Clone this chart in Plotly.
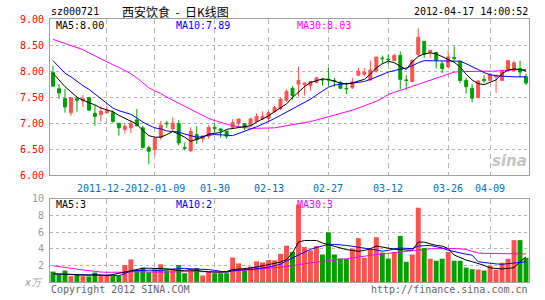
import plotly.graph_objects as go

dates = ["2011-12-13","2011-12-14","2011-12-15","2011-12-16","2011-12-19","2011-12-20","2011-12-21","2011-12-22","2011-12-23",
         "2011-12-26","2011-12-27","2011-12-28","2011-12-29","2011-12-30","2012-01-04","2012-01-05","2012-01-06",
         "2012-01-09","2012-01-10","2012-01-11","2012-01-12","2012-01-13","2012-01-16","2012-01-17","2012-01-18","2012-01-19","2012-01-20",
         "2012-01-30","2012-01-31","2012-02-01","2012-02-02","2012-02-03","2012-02-06","2012-02-07","2012-02-09","2012-02-10",
         "2012-02-13","2012-02-14","2012-02-15","2012-02-16","2012-02-17","2012-02-20","2012-02-21","2012-02-22","2012-02-23","2012-02-24",
         "2012-02-27","2012-02-28","2012-02-29","2012-03-01","2012-03-02","2012-03-05","2012-03-06","2012-03-07","2012-03-08","2012-03-09",
         "2012-03-12","2012-03-13","2012-03-14","2012-03-15","2012-03-16","2012-03-19","2012-03-20","2012-03-21","2012-03-22","2012-03-23",
         "2012-03-26","2012-03-27","2012-03-28","2012-03-29","2012-03-30","2012-04-05","2012-04-06",
         "2012-04-09","2012-04-10","2012-04-11","2012-04-12","2012-04-13","2012-04-16","2012-04-17"]

opens = [7.97,7.66,7.47,7.20,7.47,7.43,7.49,7.19,7.16,7.20,7.20,7.00,6.88,6.91,7.06,6.91,6.53,6.49,6.73,7.00,
         6.89,6.99,6.53,6.47,6.78,6.70,6.75,6.92,6.89,6.85,6.92,7.00,6.99,6.95,7.03,7.08,7.09,7.22,7.28,7.44,
         7.67,7.75,7.74,7.72,7.78,7.84,7.84,7.82,7.78,7.67,7.68,7.92,7.94,7.83,8.00,8.25,8.23,8.20,8.30,7.83,
         7.80,8.32,8.57,8.36,8.36,8.14,8.08,8.26,8.19,7.82,7.67,7.49,7.84,7.82,7.89,7.82,8.01,8.01,8.05,7.89]
highs = [8.10,7.75,7.66,7.49,7.48,7.54,7.50,7.35,7.32,7.34,7.25,7.00,7.00,7.06,7.27,6.95,6.57,6.71,7.04,7.04,
         7.11,7.06,6.63,6.92,6.94,6.77,6.96,6.99,6.89,6.85,7.08,7.08,6.99,7.11,7.19,7.23,7.24,7.33,7.49,7.65,
         7.71,8.09,7.78,7.81,7.89,7.87,8.06,7.87,7.81,7.78,7.87,8.06,8.06,8.20,8.27,8.30,8.33,8.33,8.38,7.92,
         8.21,8.82,8.57,8.40,8.36,8.19,8.38,8.47,8.19,7.87,7.75,7.82,7.92,7.95,7.92,8.03,8.20,8.20,8.20,7.95]
lows = [7.69,7.47,7.20,7.14,7.22,7.31,7.23,6.95,7.03,7.18,7.01,6.76,6.80,6.81,6.94,6.52,6.21,6.38,6.68,6.91,
        6.83,6.57,6.48,6.45,6.60,6.63,6.70,6.82,6.72,6.70,6.91,6.95,6.87,6.94,7.02,7.06,7.04,7.20,7.25,7.41,
        7.45,7.51,7.53,7.62,7.77,7.72,7.72,7.70,7.65,7.56,7.66,7.90,7.90,7.81,7.97,8.14,8.13,8.19,7.65,7.63,
        7.78,8.27,8.25,8.25,8.05,7.96,8.06,8.20,7.77,7.57,7.40,7.48,7.77,7.81,7.58,7.81,8.00,8.00,7.87,7.73]
closes = [7.71,7.58,7.31,7.49,7.44,7.47,7.25,7.13,7.23,7.24,7.03,6.91,6.94,6.99,6.95,6.53,6.46,6.71,6.96,6.99,
          7.00,6.62,6.52,6.84,6.68,6.75,6.92,6.90,6.85,6.75,7.01,7.08,6.91,7.08,7.13,7.13,7.20,7.30,7.46,7.61,
          7.53,7.82,7.77,7.80,7.87,7.83,7.83,7.80,7.67,7.66,7.79,8.00,7.98,8.02,8.27,8.24,8.22,8.30,7.84,7.82,
          8.21,8.65,8.32,8.40,8.21,8.05,8.27,8.24,7.82,7.70,7.48,7.81,7.82,7.94,7.92,8.00,8.20,8.16,7.98,7.77]

ma5 = [7.96,7.82,7.70,7.60,7.50,7.44,7.40,7.35,7.29,7.26,7.22,7.15,7.09,7.04,6.98,6.86,6.76,6.73,6.73,6.78,
       6.84,6.79,6.73,6.65,6.69,6.73,6.79,6.81,6.82,6.88,6.90,6.92,6.93,6.95,7.02,7.08,7.14,7.22,7.30,7.37,
       7.49,7.60,7.70,7.78,7.82,7.85,7.84,7.80,7.77,7.75,7.77,7.81,7.84,7.94,8.06,8.14,8.19,8.16,8.10,8.03,
       8.18,8.28,8.33,8.35,8.33,8.28,8.22,8.17,8.08,7.94,7.83,7.76,7.74,7.78,7.83,7.95,8.02,8.04,8.03,8.00]
ma10 = [8.20,8.08,7.96,7.89,7.80,7.72,7.65,7.56,7.46,7.38,7.29,7.24,7.20,7.17,7.10,7.02,6.96,6.91,6.89,6.85,
        6.84,6.83,6.79,6.76,6.73,6.74,6.77,6.78,6.78,6.77,6.76,6.80,6.85,6.89,6.93,6.98,7.03,7.09,7.15,7.21,
        7.28,7.34,7.40,7.46,7.54,7.62,7.69,7.73,7.75,7.76,7.77,7.78,7.80,7.84,7.89,7.94,7.98,8.01,8.03,8.06,
        8.10,8.16,8.20,8.20,8.20,8.20,8.20,8.20,8.19,8.14,8.09,8.03,7.97,7.93,7.91,7.90,7.89,7.89,7.89,7.89]
ma30 = [8.61,8.57,8.54,8.50,8.46,8.41,8.35,8.29,8.23,8.18,8.12,8.07,8.01,7.95,7.87,7.77,7.68,7.62,7.57,7.50,
        7.44,7.38,7.32,7.26,7.20,7.14,7.09,7.05,7.01,6.98,6.95,6.93,6.91,6.90,6.90,6.90,6.90,6.91,6.93,6.95,
        6.97,6.98,7.00,7.03,7.06,7.09,7.12,7.15,7.18,7.21,7.25,7.29,7.33,7.37,7.42,7.48,7.55,7.59,7.63,7.67,
        7.70,7.74,7.79,7.83,7.86,7.90,7.94,7.98,7.99,7.99,7.99,7.99,8.00,8.00,8.00,8.01,8.02,8.02,8.03,8.03]

volumes = [1.26,0.87,1.38,0.71,0.87,0.71,0.67,1.14,0.71,0.79,0.71,0.71,2.05,2.72,1.46,1.73,1.18,1.54,2.13,1.42,
           1.57,2.05,1.06,1.57,1.69,0.79,1.26,1.06,1.06,1.06,2.95,2.24,1.50,1.85,2.48,2.36,2.64,2.60,3.39,4.37,
           3.62,9.33,4.21,3.82,4.33,3.31,5.98,3.31,2.83,2.76,4.02,5.28,2.91,3.94,5.39,3.54,2.83,3.62,5.55,2.44,
           3.31,8.94,4.09,2.80,2.56,2.80,3.62,2.56,2.56,1.73,1.54,1.50,1.38,1.97,1.46,2.32,2.80,5.04,5.04,2.91]
vma5 = [0.98,0.98,0.95,0.90,0.85,0.80,0.82,0.86,0.82,0.79,0.90,1.04,1.22,1.40,1.55,1.65,1.66,1.65,1.65,1.58,
        1.50,1.35,1.40,1.46,1.38,1.28,1.22,1.20,1.18,1.26,1.50,1.55,1.58,1.70,1.80,1.95,2.05,2.20,2.40,2.70,
        3.50,4.80,5.00,5.00,5.00,4.70,4.50,4.30,4.10,3.90,3.80,3.70,3.80,4.00,4.33,4.20,4.05,3.95,3.90,3.85,
        3.82,4.80,4.80,4.60,4.41,4.33,4.02,3.25,2.90,2.64,2.45,2.24,2.00,1.70,1.65,1.57,1.65,1.73,2.44,3.03]
vma10 = [0.98,0.98,0.98,0.98,0.90,0.87,0.87,0.87,0.87,0.85,0.80,0.75,1.06,1.30,1.38,1.42,1.42,1.40,1.34,1.50,
         1.58,1.65,1.65,1.58,1.57,1.57,1.50,1.40,1.26,1.18,1.35,1.45,1.50,1.52,1.57,1.68,1.80,1.95,2.13,2.55,
         2.90,3.23,3.55,3.94,4.15,4.35,4.53,4.53,4.50,4.40,4.30,4.21,4.10,3.95,3.85,3.72,3.80,4.00,4.09,4.05,
         4.02,4.33,4.38,4.41,4.25,4.10,3.82,3.65,3.45,3.35,3.23,2.44,2.35,2.24,2.18,2.13,2.20,2.30,2.36,2.44]
vma30 = [1.95,1.87,1.78,1.68,1.55,1.45,1.35,1.26,1.20,1.17,1.15,1.14,1.18,1.24,1.22,1.17,1.15,1.16,1.18,1.20,
         1.23,1.25,1.26,1.26,1.25,1.24,1.22,1.19,1.15,1.20,1.28,1.34,1.38,1.44,1.50,1.55,1.60,1.70,1.76,1.85,
         1.97,2.13,2.20,2.30,2.40,2.50,2.60,2.68,2.74,2.80,2.88,2.98,3.10,3.22,3.30,3.40,3.48,3.55,3.62,3.66,
         3.80,3.90,3.95,4.00,4.02,4.04,4.04,4.03,3.99,3.92,3.70,3.50,3.45,3.43,3.42,3.40,3.38,3.36,3.37,3.38]

tick_dates = ["2011-12-26","2012-01-09","2012-01-30","2012-02-13","2012-02-27","2012-03-12","2012-03-26","2012-04-09"]
tick_labels = ["2011-12-","2012-01-09","01-30","02-13","02-27","03-12","03-26","04-09"]
price_ticks = [6.0, 6.5, 7.0, 7.5, 8.0, 8.5, 9.0]
vol_ticks = [2, 4, 6, 8, 10]

RED = "#ff5050"
GREEN = "#00a000"
GRID = "#b4b4b4"
FRAME = "#a0a0a0"
MONO = "DejaVu Sans Mono"

W, H = 545, 300
L, R, T, B = 50, 16, 19, 15
PW, PH = W - L - R, H - T - B


def px(X):
    return (X - L) / PW


def py(Y):
    return (H - B - Y) / PH


fig = go.Figure()
fig.add_trace(go.Candlestick(
    x=dates, open=opens, high=highs, low=lows, close=closes,
    increasing=dict(line=dict(color=RED, width=1), fillcolor=RED),
    decreasing=dict(line=dict(color=GREEN, width=1), fillcolor=GREEN),
    whiskerwidth=0, xaxis="x", yaxis="y", showlegend=False, hoverinfo="skip"))
for arr, col in [(ma30, "#ff00ff"), (ma10, "#0000ff"), (ma5, "#000000")]:
    fig.add_trace(go.Scatter(x=dates, y=arr, mode="lines", line=dict(color=col, width=1),
                             xaxis="x", yaxis="y", showlegend=False, hoverinfo="skip"))

vol_colors = [RED if c >= o else GREEN for o, c in zip(opens, closes)]
fig.add_trace(go.Bar(x=dates, y=volumes, marker=dict(color=vol_colors, line=dict(width=0)),
                     xaxis="x2", yaxis="y2", showlegend=False, hoverinfo="skip"))
for arr, col in [(vma30, "#ff00ff"), (vma10, "#0000ff"), (vma5, "#000000")]:
    fig.add_trace(go.Scatter(x=dates, y=arr, mode="lines", line=dict(color=col, width=1),
                             xaxis="x2", yaxis="y2", showlegend=False, hoverinfo="skip"))

main_bottom = py(177)
vol_top = py(201)

xcommon = dict(type="category", range=[-0.5, len(dates) - 0.5], tickvals=tick_dates,
               showticklabels=False, ticks="", showgrid=True, gridcolor=GRID, gridwidth=1,
               griddash="5px,4px", showline=True, mirror=True, linecolor=FRAME, linewidth=1,
               zeroline=False, fixedrange=True)

fig.update_layout(
    width=W, height=H, margin=dict(l=L, r=R, t=T, b=B, pad=0),
    paper_bgcolor="white", plot_bgcolor="white",
    bargap=0.18,
    xaxis=dict(domain=[0, 1], anchor="y", rangeslider=dict(visible=False), **xcommon),
    xaxis2=dict(domain=[0, 1], anchor="y2", matches="x", **xcommon),
    yaxis=dict(domain=[main_bottom, 1], range=[6, 9], tickvals=price_ticks,
               ticktext=["%.2f" % v for v in price_ticks],
               tickfont=dict(family=MONO, size=10, color="#ff0000"),
               showgrid=True, gridcolor=GRID, griddash="dot", gridwidth=1,
               showline=True, mirror=True, linecolor=FRAME, linewidth=1, ticks="",
               ticklabelstandoff=3, zeroline=False),
    yaxis2=dict(domain=[0, vol_top], range=[0, 10], tickvals=vol_ticks,
                ticktext=[str(v) for v in vol_ticks],
                tickfont=dict(family=MONO, size=10, color="#999999"),
                showgrid=True, gridcolor=GRID, griddash="dot", gridwidth=1,
                showline=True, mirror=True, linecolor=FRAME, linewidth=1, ticks="",
                ticklabelstandoff=3, zeroline=False),
)

anns = []


def ann(text, X, Y, color="#000000", size=10, xanchor="left", family=MONO, **kw):
    anns.append(dict(text=text, x=px(X), y=py(Y), xref="paper", yref="paper", xanchor=xanchor,
                     yanchor="middle", showarrow=False, font=dict(family=family, size=size, color=color), **kw))


NB = "\u00a0"
ann("sz000721", 49, 11)
ann("西安饮食" + NB * 2 + "-" + NB * 2 + "日K线图", 120, 11, size=12, family="Noto Sans CJK SC")
ann("2012-04-17 14:00:52", 530, 11, xanchor="right")
ann("MA5:%.2f" % ma5[-1], 54, 25.5)
ann("MA10:%.2f" % ma10[-1], 174, 25.5, color="#0000ff")
ann("MA30:%.2f" % ma30[-1], 295, 25.5, color="#ff00ff")
ann("MA5:%d" % int(vma5[-1]), 54, 207)
ann("MA10:%d" % int(vma10[-1]), 174, 207, color="#0000ff")
ann("MA30:%d" % int(vma30[-1]), 295, 207, color="#ff00ff")
ann("<i>x万</i>", 45, 286, color="#999999", xanchor="right", family="DejaVu Sans")
ann("Copyright 2012 SINA.COM", 49, 293, color="#666666")
ann("http://finance.sina.com.cn", 530, 293, color="#666666", xanchor="right")
ann("<b><i>sina</i></b>", 509, 163, color="#c4c4c4", size=15, xanchor="center", family="DejaVu Sans")

for d, lab in zip(tick_dates, tick_labels):
    shift = -6 if lab == "2011-12-" else 0
    anns.append(dict(text=lab, x=d, y=py(190), xref="x", yref="paper", xanchor="center", yanchor="middle",
                     showarrow=False, xshift=shift, borderpad=0,
                     font=dict(family=MONO, size=10, color="#0070c0")))

fig.update_layout(annotations=anns)
fig.write_html("out.html")
